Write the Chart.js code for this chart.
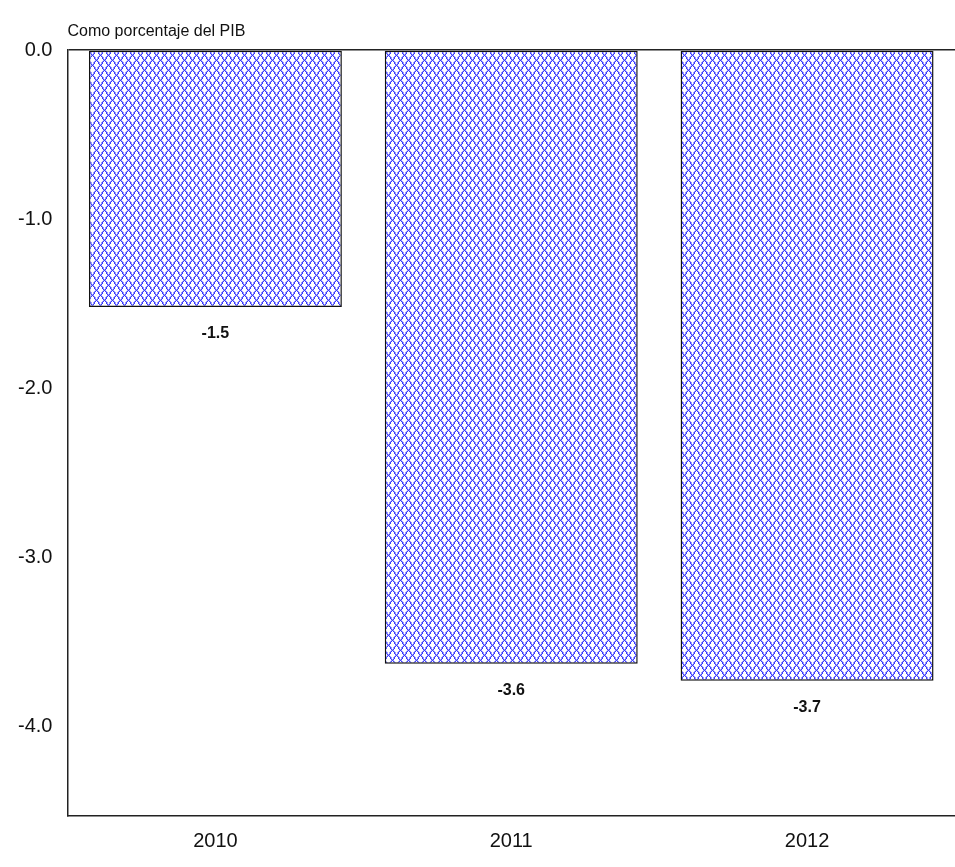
<!DOCTYPE html>
<html>
<head>
<meta charset="utf-8">
<script src="https://cdn.jsdelivr.net/npm/chart.js@4"></script>
<style>
  html, body { margin: 0; padding: 0; background: #fff; }
  #wrap { width: 955px; height: 867px; }
</style>
</head>
<body>
<div id="wrap"><canvas id="chart"></canvas></div>
<script>
const years = ['2010', '2011', '2012'];
const balance = [-1.52, -3.63, -3.73];
const yTicks = [0, -1, -2, -3, -4];
const unitLabel = 'Como porcentaje del PIB';

const FONT = "'Liberation Sans Narrow', 'Arial Narrow', 'Liberation Sans', Arial, sans-serif";

// pixel crosshatch, 8 x 10 tile, like the original fill
function makeHatch() {
    const w = 8, h = 10;
    const c = document.createElement('canvas');
    c.width = w; c.height = h;
    const g = c.getContext('2d');
    g.fillStyle = '#fff';
    g.fillRect(0, 0, w, h);
    for (let y = 0; y < h; y++) {
        const a = Math.round(y * w / h) % w;
        const b = (w - a) % w;
        g.fillStyle = '#a0a0ff';
        g.fillRect((a + 1) % w, y, 1, 1);
        g.fillRect((b + w - 1) % w, y, 1, 1);
        g.fillStyle = '#3a3aff';
        g.fillRect(a, y, 1, 1);
        g.fillRect(b, y, 1, 1);
    }
    return g.createPattern(c, 'repeat');
}

const extras = {
    id: 'extras',
    afterDraw(chart) {
        const ctx = chart.ctx;
        const area = chart.chartArea;
        ctx.save();
        ctx.fillStyle = '#111';
        ctx.font = '16px ' + FONT;
        ctx.textAlign = 'left';
        ctx.textBaseline = 'alphabetic';
        ctx.fillText(unitLabel, area.left, 36);

        ctx.font = 'bold 16px ' + FONT;
        ctx.textAlign = 'center';
        ctx.textBaseline = 'top';
        const meta = chart.getDatasetMeta(0);
        meta.data.forEach((bar, i) => {
            ctx.fillText(balance[i].toFixed(1), bar.x, bar.y + 19);
        });
        ctx.restore();
    }
};

new Chart(document.getElementById('chart'), {
    type: 'bar',
    data: {
        labels: years,
        datasets: [{
            data: balance,
            backgroundColor: makeHatch(),
            borderColor: '#111',
            borderWidth: 1.5,
            borderSkipped: false,
            barPercentage: 0.855,
            categoryPercentage: 1.0
        }]
    },
    options: {
        responsive: true,
        maintainAspectRatio: false,
        animation: false,
        layout: { padding: { top: 50, left: 3, right: 0, bottom: 9 } },
        plugins: {
            legend: { display: false },
            tooltip: { enabled: false }
        },
        scales: {
            x: {
                grid: { display: false },
                border: { display: true, color: '#222', width: 1.5 },
                ticks: { color: '#111', font: { family: FONT, size: 20 }, padding: 5 }
            },
            y: {
                min: -4.53,
                max: 0,
                afterBuildTicks: axis => { axis.ticks = yTicks.map(v => ({ value: v })); },
                grid: {
                    drawTicks: false,
                    color: c => c.tick && c.tick.value === 0 ? '#222' : 'rgba(0,0,0,0)',
                    lineWidth: 1.5
                },
                border: { display: true, color: '#222', width: 1.5 },
                ticks: {
                    color: '#111',
                    font: { family: FONT, size: 20 },
                    padding: 15,
                    callback: v => v.toFixed(1)
                }
            }
        }
    },
    plugins: [extras]
});
</script>
</body>
</html>
